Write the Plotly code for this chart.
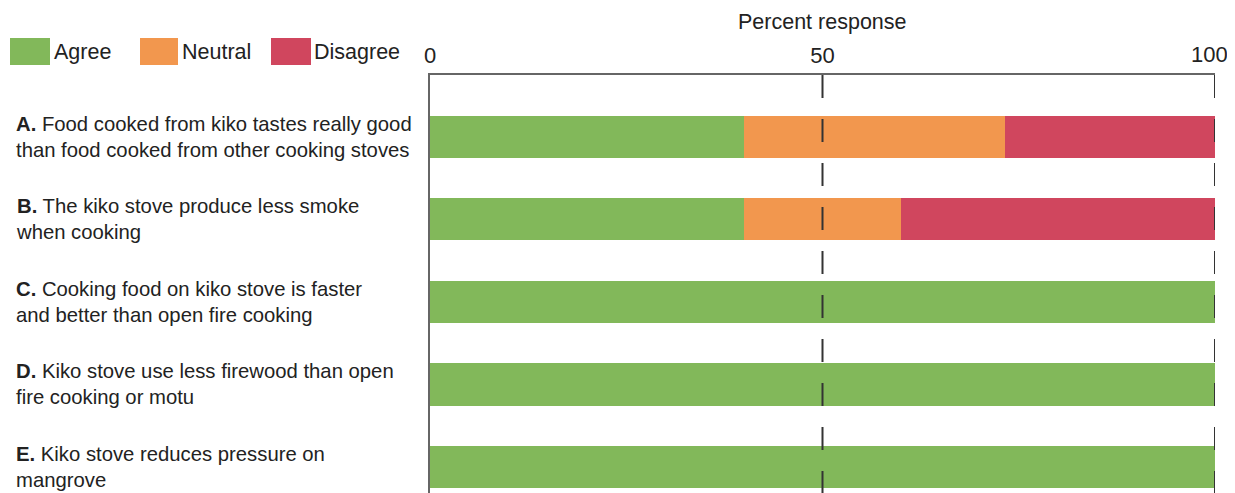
import plotly.graph_objects as go

# ---- data ----
statements = [
    "<b>A.</b> Food cooked from kiko tastes really good<br>than food cooked from other cooking stoves",
    "<b>B.</b> The kiko stove produce less smoke<br>when cooking",
    "<b>C.</b> Cooking food on kiko stove is faster<br>and better than open fire cooking",
    "<b>D.</b> Kiko stove use less firewood than open<br>fire cooking or motu",
    "<b>E.</b> Kiko stove reduces pressure on<br>mangrove",
]
cat_ids = ["A", "B", "C", "D", "E"]
agree = [40.0, 40.0, 100.0, 100.0, 100.0]
neutral = [33.3, 20.0, 0.0, 0.0, 0.0]
disagree = [26.7, 40.0, 0.0, 0.0, 0.0]
series_names = ["Agree", "Neutral", "Disagree"]
series_colors = ["#82B85A", "#F2974E", "#D0465E"]
x_ticks = [0, 50, 100]
x_ticktext = ["0", "50", ""]   # the "100" label is placed flush right below
last_tick_label = "100"

OFF = 8  # page body margin
W, H = 1235 - OFF, 493 - OFF
# plot area in reference page pixels: x 430..1215, y 75..493
L, R, T, B = 430 - OFF, 1235 - 1215, 75 - OFF, 0
FONT = "Liberation Sans, Arial, sans-serif"
TXT = "#222222"

def px_x(p):  # reference page pixel -> paper x
    return (p - OFF - L) / (W - L - R)

def px_y(p):  # reference page pixel -> paper y
    return (H - B - (p - OFF)) / (H - T - B)

fig = go.Figure()
for name, vals, col in zip(series_names, [agree, neutral, disagree], series_colors):
    fig.add_trace(go.Bar(
        y=cat_ids, x=vals, name=name, orientation="h",
        marker=dict(color=col, line=dict(width=0)), width=0.51,
        showlegend=False,
    ))

annotations = []
for cid, txt in zip(cat_ids, statements):
    annotations.append(dict(
        x=px_x(14), xref="paper", y=cid, yref="y", text=txt,
        showarrow=False, xanchor="left", yanchor="middle", align="left",
        font=dict(family=FONT, size=20.3, color=TXT),
    ))

# custom legend
shapes = []
legend_box_x = [(10, 50), (140, 178), (271, 311)]
legend_txt_x = [52, 180, 312]
for name, col, (x0, x1), tx in zip(series_names, series_colors, legend_box_x, legend_txt_x):
    shapes.append(dict(type="rect", xref="paper", yref="paper",
                       x0=px_x(x0), x1=px_x(x1), y0=px_y(65), y1=px_y(38),
                       fillcolor=col, line=dict(width=0)))
    annotations.append(dict(x=px_x(tx), xref="paper", y=px_y(52), yref="paper",
                            text=name, showarrow=False, xanchor="left", yanchor="middle",
                            font=dict(family=FONT, size=21.5, color=TXT)))

annotations.append(dict(x=0.5, xref="paper", y=px_y(OFF), yref="paper",
                        text="Percent response", showarrow=False,
                        xanchor="center", yanchor="top",
                        font=dict(family=FONT, size=21.5, color=TXT)))

# last tick label, kept inside the page
annotations.append(dict(x=px_x(1230), xref="paper", y=px_y(55), yref="paper",
                        text=last_tick_label, showarrow=False,
                        xanchor="right", yanchor="middle",
                        font=dict(family=FONT, size=22, color=TXT)))

# dashed reference lines at 50 and 100 above bars (dash pattern starts at the top)
for xv in [50, 100]:
    shapes.append(dict(type="line", xref="x", yref="paper", x0=xv, x1=xv, y0=1, y1=0,
                       layer="above", line=dict(color="#333333", width=2, dash="23px,21px")))

fig.update_layout(
    width=W, height=H,
    margin=dict(l=L, r=R, t=T, b=B, pad=0),
    barmode="stack", bargap=0.49,
    plot_bgcolor="white", paper_bgcolor="white",
    font=dict(family=FONT, color=TXT),
    shapes=shapes, annotations=annotations,
    xaxis=dict(side="top", range=[0, 100], tickvals=x_ticks, ticktext=x_ticktext,
               showgrid=False, zeroline=False, showline=True, linecolor="#666666", linewidth=2,
               ticks="", tickfont=dict(family=FONT, size=22, color=TXT), ticklabelstandoff=1),
    yaxis=dict(categoryorder="array", categoryarray=cat_ids, range=[4.315, -0.75],
               showticklabels=False, showgrid=False, zeroline=False, showline=True,
               linecolor="#666666", linewidth=2, ticks=""),
)

fig.write_html("out.html")
